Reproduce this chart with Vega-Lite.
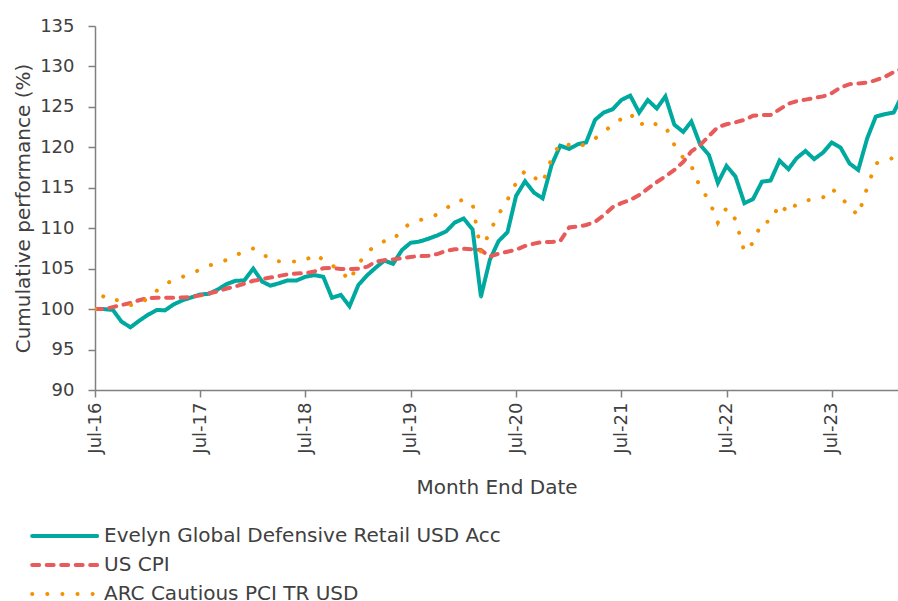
{
  "$schema": "https://vega.github.io/schema/vega-lite/v6.json",
  "width": 803,
  "height": 364,
  "autosize": {"type": "none"},
  "padding": {"left": 95, "top": 26, "right": 0, "bottom": 211},
  "background": "white",
  "config": {"view": {"stroke": null}, "font": "DejaVu Sans"},
  "data": {"values": [
    {"date": "2016/07/01", "fund": 100.0, "cpi": 100.0, "arc": 100.0},
    {"date": "2016/08/01", "fund": 100.0, "cpi": 100.0, "arc": 101.7},
    {"date": "2016/09/01", "fund": 99.9, "cpi": 100.25, "arc": 101.2},
    {"date": "2016/10/01", "fund": 98.45, "cpi": 100.5, "arc": 101.0},
    {"date": "2016/11/01", "fund": 97.75, "cpi": 100.75, "arc": 100.5},
    {"date": "2016/12/01", "fund": 98.55, "cpi": 101.1, "arc": 100.7},
    {"date": "2017/01/01", "fund": 99.3, "cpi": 101.35, "arc": 101.3},
    {"date": "2017/02/01", "fund": 99.9, "cpi": 101.4, "arc": 102.3},
    {"date": "2017/03/01", "fund": 99.85, "cpi": 101.4, "arc": 103.1},
    {"date": "2017/04/01", "fund": 100.6, "cpi": 101.4, "arc": 103.6},
    {"date": "2017/05/01", "fund": 101.1, "cpi": 101.45, "arc": 104.0},
    {"date": "2017/06/01", "fund": 101.45, "cpi": 101.5, "arc": 104.4},
    {"date": "2017/07/01", "fund": 101.8, "cpi": 101.7, "arc": 104.9},
    {"date": "2017/08/01", "fund": 101.9, "cpi": 101.95, "arc": 105.4},
    {"date": "2017/09/01", "fund": 102.45, "cpi": 102.2, "arc": 105.65},
    {"date": "2017/10/01", "fund": 103.1, "cpi": 102.55, "arc": 106.1},
    {"date": "2017/11/01", "fund": 103.5, "cpi": 102.8, "arc": 106.65},
    {"date": "2017/12/01", "fund": 103.55, "cpi": 103.15, "arc": 107.15},
    {"date": "2018/01/01", "fund": 105.0, "cpi": 103.5, "arc": 107.5},
    {"date": "2018/02/01", "fund": 103.4, "cpi": 103.7, "arc": 107.0},
    {"date": "2018/03/01", "fund": 102.9, "cpi": 103.9, "arc": 106.0},
    {"date": "2018/04/01", "fund": 103.2, "cpi": 104.1, "arc": 105.9},
    {"date": "2018/05/01", "fund": 103.55, "cpi": 104.3, "arc": 105.9},
    {"date": "2018/06/01", "fund": 103.55, "cpi": 104.4, "arc": 105.9},
    {"date": "2018/07/01", "fund": 104.0, "cpi": 104.45, "arc": 106.0},
    {"date": "2018/08/01", "fund": 104.2, "cpi": 104.65, "arc": 106.8},
    {"date": "2018/09/01", "fund": 104.0, "cpi": 105.05, "arc": 106.1},
    {"date": "2018/10/01", "fund": 101.4, "cpi": 105.1, "arc": 105.4},
    {"date": "2018/11/01", "fund": 101.75, "cpi": 104.95, "arc": 104.8},
    {"date": "2018/12/01", "fund": 100.35, "cpi": 104.95, "arc": 103.5},
    {"date": "2019/01/01", "fund": 103.0, "cpi": 105.0, "arc": 105.6},
    {"date": "2019/02/01", "fund": 104.2, "cpi": 105.25, "arc": 107.0},
    {"date": "2019/03/01", "fund": 105.1, "cpi": 105.85, "arc": 107.9},
    {"date": "2019/04/01", "fund": 106.0, "cpi": 106.05, "arc": 108.4},
    {"date": "2019/05/01", "fund": 105.6, "cpi": 106.15, "arc": 108.5},
    {"date": "2019/06/01", "fund": 107.3, "cpi": 106.3, "arc": 109.9},
    {"date": "2019/07/01", "fund": 108.2, "cpi": 106.45, "arc": 110.6},
    {"date": "2019/08/01", "fund": 108.35, "cpi": 106.55, "arc": 111.0},
    {"date": "2019/09/01", "fund": 108.7, "cpi": 106.6, "arc": 111.25},
    {"date": "2019/10/01", "fund": 109.1, "cpi": 106.8, "arc": 111.7},
    {"date": "2019/11/01", "fund": 109.6, "cpi": 107.2, "arc": 112.4},
    {"date": "2019/12/01", "fund": 110.7, "cpi": 107.4, "arc": 113.3},
    {"date": "2020/01/01", "fund": 111.2, "cpi": 107.45, "arc": 113.5},
    {"date": "2020/02/01", "fund": 109.85, "cpi": 107.4, "arc": 113.0},
    {"date": "2020/03/01", "fund": 101.55, "cpi": 107.3, "arc": 107.1},
    {"date": "2020/04/01", "fund": 106.1, "cpi": 106.5, "arc": 109.6},
    {"date": "2020/05/01", "fund": 108.4, "cpi": 106.85, "arc": 111.7},
    {"date": "2020/06/01", "fund": 109.5, "cpi": 107.1, "arc": 113.5},
    {"date": "2020/07/01", "fund": 114.0, "cpi": 107.35, "arc": 115.6},
    {"date": "2020/08/01", "fund": 115.8, "cpi": 107.8, "arc": 117.1},
    {"date": "2020/09/01", "fund": 114.4, "cpi": 108.1, "arc": 116.3},
    {"date": "2020/10/01", "fund": 113.7, "cpi": 108.3, "arc": 115.6},
    {"date": "2020/11/01", "fund": 117.8, "cpi": 108.3, "arc": 118.6},
    {"date": "2020/12/01", "fund": 120.2, "cpi": 108.4, "arc": 120.5},
    {"date": "2021/01/01", "fund": 119.8, "cpi": 110.1, "arc": 120.3},
    {"date": "2021/02/01", "fund": 120.4, "cpi": 110.2, "arc": 120.0},
    {"date": "2021/03/01", "fund": 120.6, "cpi": 110.4, "arc": 120.5},
    {"date": "2021/04/01", "fund": 123.4, "cpi": 110.8, "arc": 121.1},
    {"date": "2021/05/01", "fund": 124.3, "cpi": 111.6, "arc": 121.9},
    {"date": "2021/06/01", "fund": 124.7, "cpi": 112.6, "arc": 122.8},
    {"date": "2021/07/01", "fund": 125.85, "cpi": 113.1, "arc": 123.5},
    {"date": "2021/08/01", "fund": 126.4, "cpi": 113.5, "arc": 124.2},
    {"date": "2021/09/01", "fund": 124.3, "cpi": 114.1, "arc": 122.7},
    {"date": "2021/10/01", "fund": 125.85, "cpi": 114.9, "arc": 123.3},
    {"date": "2021/11/01", "fund": 124.8, "cpi": 115.7, "arc": 122.8},
    {"date": "2021/12/01", "fund": 126.3, "cpi": 116.4, "arc": 122.6},
    {"date": "2022/01/01", "fund": 122.8, "cpi": 117.2, "arc": 120.3},
    {"date": "2022/02/01", "fund": 121.9, "cpi": 118.2, "arc": 118.7},
    {"date": "2022/03/01", "fund": 123.2, "cpi": 119.5, "arc": 117.7},
    {"date": "2022/04/01", "fund": 120.3, "cpi": 120.3, "arc": 115.0},
    {"date": "2022/05/01", "fund": 119.05, "cpi": 121.4, "arc": 113.5},
    {"date": "2022/06/01", "fund": 115.6, "cpi": 122.5, "arc": 110.7},
    {"date": "2022/07/01", "fund": 117.7, "cpi": 122.85, "arc": 112.5},
    {"date": "2022/08/01", "fund": 116.4, "cpi": 123.1, "arc": 111.1},
    {"date": "2022/09/01", "fund": 113.1, "cpi": 123.4, "arc": 107.1},
    {"date": "2022/10/01", "fund": 113.6, "cpi": 123.9, "arc": 108.2},
    {"date": "2022/11/01", "fund": 115.75, "cpi": 124.0, "arc": 110.8},
    {"date": "2022/12/01", "fund": 115.9, "cpi": 124.0, "arc": 110.8},
    {"date": "2023/01/01", "fund": 118.35, "cpi": 124.7, "arc": 113.0},
    {"date": "2023/02/01", "fund": 117.3, "cpi": 125.4, "arc": 111.9},
    {"date": "2023/03/01", "fund": 118.65, "cpi": 125.7, "arc": 113.0},
    {"date": "2023/04/01", "fund": 119.55, "cpi": 125.9, "arc": 113.4},
    {"date": "2023/05/01", "fund": 118.55, "cpi": 126.1, "arc": 113.6},
    {"date": "2023/06/01", "fund": 119.35, "cpi": 126.3, "arc": 113.8},
    {"date": "2023/07/01", "fund": 120.6, "cpi": 126.7, "arc": 114.9},
    {"date": "2023/08/01", "fund": 119.95, "cpi": 127.4, "arc": 113.9},
    {"date": "2023/09/01", "fund": 118.0, "cpi": 127.8, "arc": 112.6},
    {"date": "2023/10/01", "fund": 117.2, "cpi": 127.9, "arc": 111.6},
    {"date": "2023/11/01", "fund": 121.1, "cpi": 128.0, "arc": 115.0},
    {"date": "2023/12/01", "fund": 123.8, "cpi": 128.3, "arc": 118.0},
    {"date": "2024/01/01", "fund": 124.1, "cpi": 128.7, "arc": 118.4},
    {"date": "2024/02/01", "fund": 124.3, "cpi": 129.3, "arc": 118.7},
    {"date": "2024/03/01", "fund": 126.4, "cpi": 129.7, "arc": 119.0}
  ]},
  "transform": [{"fold": ["fund", "cpi", "arc"], "as": ["series", "value"]}],
  "mark": {"type": "line", "strokeWidth": 4, "strokeCap": "round", "clip": true},
  "encoding": {
    "x": {
      "field": "date", "type": "temporal", "title": "Month End Date",
      "scale": {"domain": [{"year": 2016, "month": 7, "date": 1}, {"year": 2024, "month": 2, "date": 16}]},
      "axis": {
        "values": [
          {"year": 2016, "month": 7, "date": 1}, {"year": 2017, "month": 7, "date": 1},
          {"year": 2018, "month": 7, "date": 1}, {"year": 2019, "month": 7, "date": 1},
          {"year": 2020, "month": 7, "date": 1}, {"year": 2021, "month": 7, "date": 1},
          {"year": 2022, "month": 7, "date": 1}, {"year": 2023, "month": 7, "date": 1}
        ],
        "format": "%b-%y", "labelAngle": -90, "labelFontSize": 18, "labelColor": "#404040",
        "labelPadding": 5, "tickSize": 7, "tickColor": "#808080", "domainColor": "#808080",
        "domainWidth": 1.5, "tickWidth": 1.5, "grid": false, "labelFlush": false, "labelOverlap": false,
        "titleFontSize": 20, "titleFontWeight": "normal", "titleColor": "#404040", "titlePadding": 24
      }
    },
    "y": {
      "field": "value", "type": "quantitative", "title": "Cumulative performance (%)",
      "scale": {"domain": [90, 135], "nice": false, "zero": false},
      "axis": {
        "values": [90, 95, 100, 105, 110, 115, 120, 125, 130, 135],
        "labelFontSize": 18, "labelColor": "#404040", "labelPadding": 14,
        "tickSize": 7, "tickColor": "#808080", "domainColor": "#808080",
        "domainWidth": 1.5, "tickWidth": 1.5, "grid": false,
        "titleFontSize": 20, "titleFontWeight": "normal", "titleColor": "#404040", "titlePadding": 6
      }
    },
    "color": {
      "field": "series", "type": "nominal",
      "scale": {"domain": ["fund", "cpi", "arc"], "range": ["#00a99f", "#e85b5b", "#f39200"]},
      "legend": {
        "title": null, "orient": "none", "legendX": -65, "legendY": 497, "direction": "vertical",
        "symbolType": "M-1,0L5,0", "symbolSize": 469, "symbolStrokeWidth": 4,
        "labelFontSize": 20, "labelColor": "#404040", "labelLimit": 700, "labelOffset": 48,
        "rowPadding": 6,
        "labelExpr": "datum.value == 'fund' ? 'Evelyn Global Defensive Retail USD Acc' : datum.value == 'cpi' ? 'US CPI' : 'ARC Cautious PCI TR USD'",
        "encode": {"symbols": {"update": {"strokeCap": {"value": "round"}}}}
      }
    },
    "strokeDash": {
      "field": "series", "type": "nominal",
      "scale": {"domain": ["fund", "cpi", "arc"], "range": [[1, 0], [7, 7.5], [0.1, 15]]},
      "legend": {
        "title": null, "orient": "none", "legendX": -65, "legendY": 497, "direction": "vertical",
        "symbolType": "M-1,0L5,0", "symbolSize": 469, "symbolStrokeWidth": 4,
        "labelFontSize": 20, "labelColor": "#404040", "labelLimit": 700, "labelOffset": 48,
        "rowPadding": 6,
        "labelExpr": "datum.value == 'fund' ? 'Evelyn Global Defensive Retail USD Acc' : datum.value == 'cpi' ? 'US CPI' : 'ARC Cautious PCI TR USD'",
        "encode": {"symbols": {"update": {"strokeCap": {"value": "round"}}}}
      }
    }
  }
}
